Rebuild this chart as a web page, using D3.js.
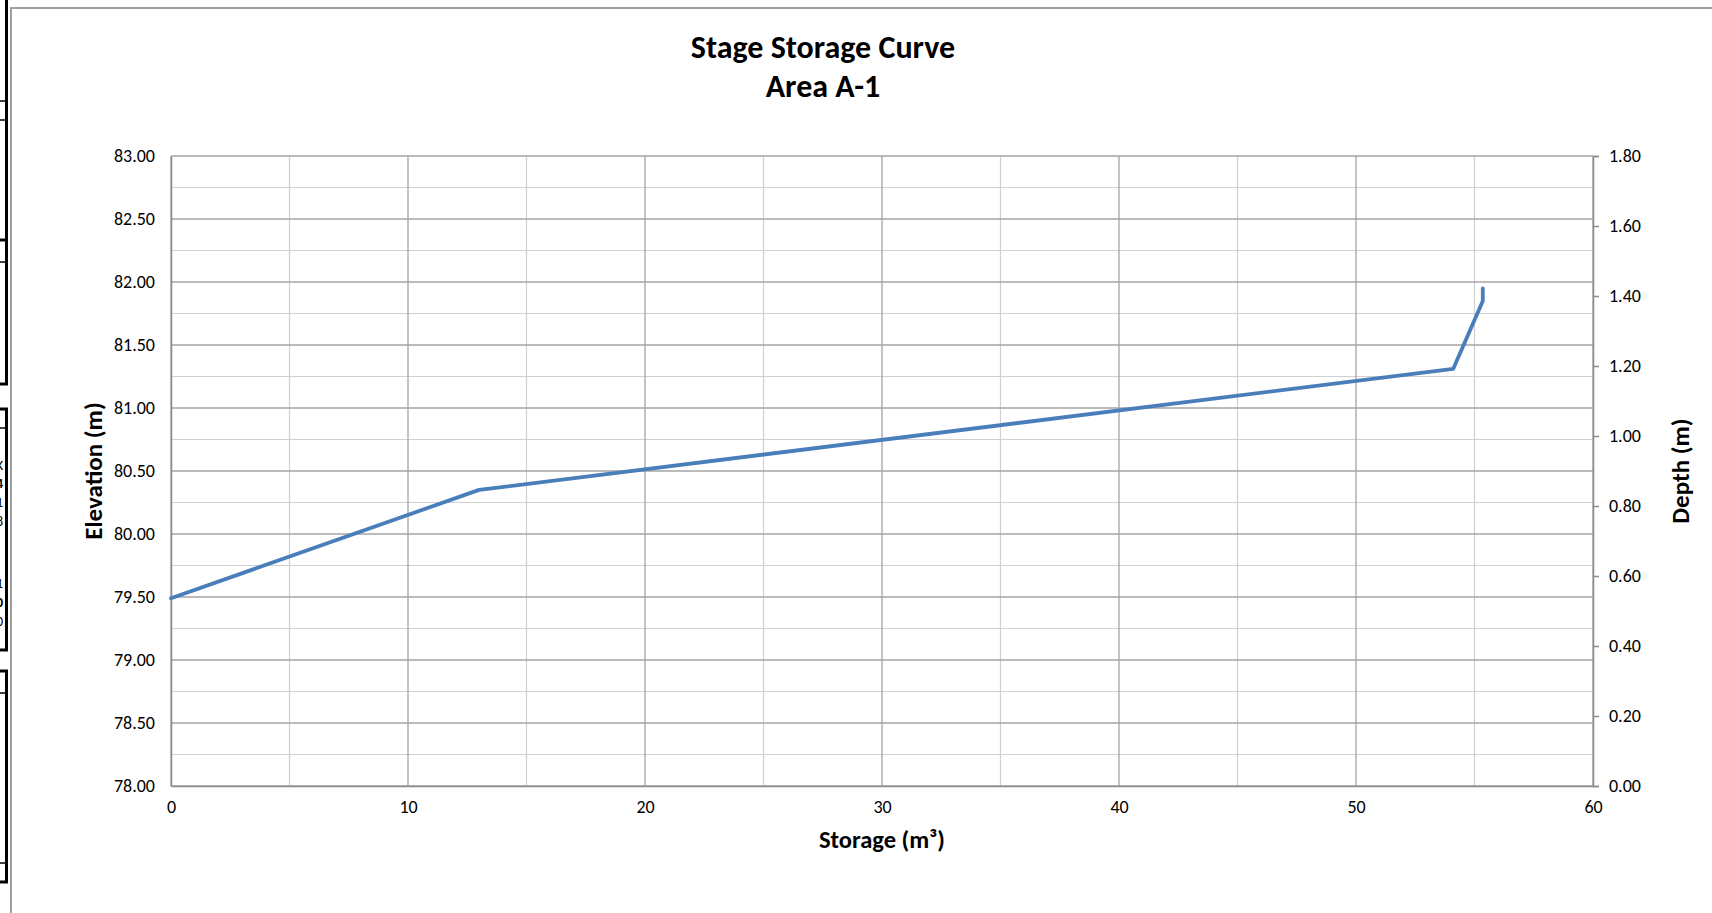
<!DOCTYPE html>
<html>
<head>
<meta charset="utf-8">
<script src="https://cdn.jsdelivr.net/npm/d3@7"></script>
<style>
  html, body { margin: 0; padding: 0; background: #fff; overflow: hidden; }
  svg { display: block; }
  text { font-family: Carlito, Calibri, Lato, "Open Sans", sans-serif; fill: #000; }
</style>
</head>
<body>
<div id="chart"></div>
<script>
// data
var storage   = [0, 13.0, 54.1, 55.35, 55.35];
var elevation = [79.49, 80.35, 81.31, 81.85, 81.95];

var xTicks     = [0, 10, 20, 30, 40, 50, 60];
var xMinor     = [5, 15, 25, 35, 45, 55];
var elevTicks  = [78, 78.5, 79, 79.5, 80, 80.5, 81, 81.5, 82, 82.5, 83];
var elevMinor  = [78.25, 78.75, 79.25, 79.75, 80.25, 80.75, 81.25, 81.75, 82.25, 82.75];
var depthTicks = [0, 0.2, 0.4, 0.6, 0.8, 1.0, 1.2, 1.4, 1.6, 1.8];

var W = 1712, H = 913;
var margin = {top: 156, right: 119, bottom: 127, left: 171},
    width = W - margin.left - margin.right,
    height = H - margin.top - margin.bottom;

var svgRoot = d3.select("#chart").append("svg")
  .attr("width", W)
  .attr("height", H);

// spreadsheet fragments peeking in at the left edge
var frag = svgRoot.append("g");
function hline(y, sw) {
  frag.append("line").attr("x1", 0).attr("x2", 8).attr("y1", y).attr("y2", y)
    .attr("stroke", "#000").attr("stroke-width", sw);
}
function vline(y1, y2) {
  frag.append("line").attr("x1", 6.5).attr("x2", 6.5).attr("y1", y1).attr("y2", y2)
    .attr("stroke", "#000").attr("stroke-width", 3);
}
vline(0, 385); vline(408, 651); vline(670, 883);
hline(101, 1.5); hline(120, 1.5);
hline(240, 3); hline(262, 1.5);
hline(384, 3);
hline(409, 3); hline(428, 1.5); hline(650, 3);
hline(671, 3); hline(693, 1.5); hline(863, 1.5); hline(882, 3);
[["K", 470, "normal"], ["4", 488, "bold"], ["1", 507, "normal"], ["8", 526, "normal"],
 ["1", 588, "normal"], ["0", 607, "bold"], ["0", 626, "normal"]].forEach(function(t) {
  frag.append("text").attr("x", -4).attr("y", t[1]).attr("font-size", 14)
    .attr("font-weight", t[2]).text(t[0]);
});

// chart frame
svgRoot.append("rect")
  .attr("x", 11).attr("y", 8)
  .attr("width", W + 20).attr("height", H + 20)
  .attr("fill", "#fff")
  .attr("stroke", "#a0a0a0")
  .attr("stroke-width", 2);

var svg = svgRoot.append("g")
  .attr("transform", "translate(" + margin.left + "," + margin.top + ")");

var x = d3.scaleLinear().domain([0, 60]).range([0, width]);
var y = d3.scaleLinear().domain([78, 83]).range([height, 0]);
var y2 = d3.scaleLinear().domain([0, 1.8]).range([height, 0]);

// minor gridlines
svg.selectAll(".hminor").data(elevMinor).enter().append("line")
  .attr("x1", 0).attr("x2", width)
  .attr("y1", function(d) { return y(d); }).attr("y2", function(d) { return y(d); })
  .attr("stroke", "#d0d0d0").attr("stroke-width", 1.2);
svg.selectAll(".vminor").data(xMinor).enter().append("line")
  .attr("y1", 0).attr("y2", height)
  .attr("x1", function(d) { return x(d); }).attr("x2", function(d) { return x(d); })
  .attr("stroke", "#d0d0d0").attr("stroke-width", 1.2);

// major gridlines
svg.selectAll(".hmajor").data(elevTicks).enter().append("line")
  .attr("x1", 0).attr("x2", width)
  .attr("y1", function(d) { return y(d); }).attr("y2", function(d) { return y(d); })
  .attr("stroke", "#a4a4a4").attr("stroke-width", 1.3);
svg.selectAll(".vmajor").data(xTicks).enter().append("line")
  .attr("y1", 0).attr("y2", height)
  .attr("x1", function(d) { return x(d); }).attr("x2", function(d) { return x(d); })
  .attr("stroke", "#a4a4a4").attr("stroke-width", 1.3);

// left axis
var yAxis = svg.append("g")
  .call(d3.axisLeft(y).tickValues(elevTicks).tickSize(0).tickPadding(16)
    .tickFormat(d3.format(".2f")));
yAxis.select(".domain").attr("stroke", "#8c8c8c").attr("stroke-width", 1.5);
yAxis.selectAll("text").attr("font-size", 18).attr("font-family", null);

// bottom axis
var xAxis = svg.append("g")
  .attr("transform", "translate(0," + height + ")")
  .call(d3.axisBottom(x).tickValues(xTicks).tickSize(0).tickPadding(14));
xAxis.select(".domain").attr("stroke", "#8c8c8c").attr("stroke-width", 1.5);
xAxis.selectAll("text").attr("font-size", 18).attr("font-family", null);

// right axis
var y2Axis = svg.append("g")
  .attr("transform", "translate(" + width + ",0)")
  .call(d3.axisRight(y2).tickValues(depthTicks).tickSizeInner(6).tickSizeOuter(6)
    .tickPadding(10).tickFormat(d3.format(".2f")));
y2Axis.select(".domain").attr("stroke", "#8c8c8c").attr("stroke-width", 1.5);
y2Axis.selectAll(".tick line").attr("stroke", "#8c8c8c").attr("stroke-width", 1.5);
y2Axis.selectAll("text").attr("font-size", 18).attr("font-family", null);

// the curve
var pts = storage.map(function(s, i) { return [s, elevation[i]]; });
svg.append("path")
  .datum(pts)
  .attr("fill", "none")
  .attr("stroke", "#4a7ebb")
  .attr("stroke-width", 3.8)
  .attr("stroke-linejoin", "round")
  .attr("stroke-linecap", "round")
  .attr("d", d3.line()
    .x(function(d) { return x(d[0]); })
    .y(function(d) { return y(d[1]); }));

// titles
svgRoot.append("text")
  .attr("x", 823).attr("y", 58)
  .attr("text-anchor", "middle")
  .attr("font-size", 32).attr("font-weight", "bold")
  .text("Stage Storage Curve");
svgRoot.append("text")
  .attr("x", 823).attr("y", 97)
  .attr("text-anchor", "middle")
  .attr("font-size", 32).attr("font-weight", "bold")
  .text("Area A-1");

svgRoot.append("text")
  .attr("transform", "translate(102," + (margin.top + height / 2) + ") rotate(-90)")
  .attr("text-anchor", "middle")
  .attr("font-size", 25).attr("font-weight", "bold")
  .text("Elevation (m)");

svgRoot.append("text")
  .attr("transform", "translate(1689," + (margin.top + height / 2) + ") rotate(-90)")
  .attr("text-anchor", "middle")
  .attr("font-size", 25).attr("font-weight", "bold")
  .text("Depth (m)");

svgRoot.append("text")
  .attr("x", margin.left + width / 2).attr("y", 848)
  .attr("text-anchor", "middle")
  .attr("font-size", 24.5).attr("font-weight", "bold")
  .text("Storage (m³)");
</script>
</body>
</html>
